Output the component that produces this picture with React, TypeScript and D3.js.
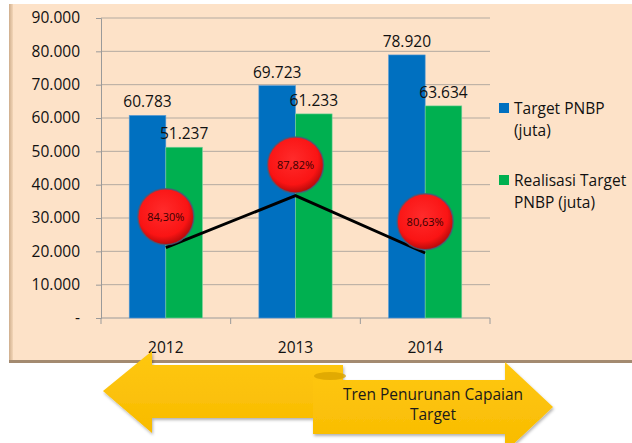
import React, { useEffect, useRef } from 'react';
import * as d3 from 'd3';

// data
const years = ['2012', '2013', '2014'];
const targetPnbp = [60783, 69723, 78920];
const realisasiPnbp = [51237, 61233, 63634];
const capaian = ['84,30%', '87,82%', '80,63%'];
// trend line end points and bubble centres, in primary axis units
const trendLine = [21100, 36700, 19500];
const bubbleAt = [30400, 45900, 28900];
const yTicks = [0, 10000, 20000, 30000, 40000, 50000, 60000, 70000, 80000, 90000];
const seriesNames = [['Target PNBP', '(juta)'], ['Realisasi Target', 'PNBP (juta)']];
const arrowText = ['Tren Penurunan Capaian', 'Target'];

const FONT = '"Open Sans", "Noto Sans", sans-serif';

const App = () => {
    const ref = useRef<SVGSVGElement>(null);

    useEffect(() => {
        const svg = d3.select(ref.current);
        svg.selectAll('*').remove();

        const margin = { top: 18, left: 101, right: 142, bottom: 125 };
        const width = 632;
        const height = 443;
        const plotW = width - margin.left - margin.right;
        const plotH = height - margin.top - margin.bottom;

        const defs = svg.append('defs');
        const bubbleGrad = defs.append('radialGradient')
            .attr('id', 'bubble')
            .attr('cx', '45%').attr('cy', '40%').attr('r', '60%');
        bubbleGrad.append('stop').attr('offset', '0%').attr('stop-color', '#ff2b2b');
        bubbleGrad.append('stop').attr('offset', '75%').attr('stop-color', '#fa1414');
        bubbleGrad.append('stop').attr('offset', '100%').attr('stop-color', '#b80a0a');

        const edgeGrad = defs.append('linearGradient')
            .attr('id', 'leftEdge').attr('x1', 0).attr('x2', 1);
        edgeGrad.append('stop').attr('offset', '0%').attr('stop-color', '#cfae8d');
        edgeGrad.append('stop').attr('offset', '100%').attr('stop-color', '#f3d6b8');

        const arrowGrad = defs.append('linearGradient')
            .attr('id', 'arrowFill').attr('x1', 0).attr('y1', 0).attr('x2', 0).attr('y2', 1);
        arrowGrad.append('stop').attr('offset', '0%').attr('stop-color', '#ffc812');
        arrowGrad.append('stop').attr('offset', '100%').attr('stop-color', '#f8bb00');

        const shadow = defs.append('filter').attr('id', 'shadow')
            .attr('x', '-10%').attr('y', '-10%').attr('width', '130%').attr('height', '130%');
        shadow.append('feDropShadow')
            .attr('dx', 1).attr('dy', 2).attr('stdDeviation', 1.5)
            .attr('flood-color', '#000').attr('flood-opacity', 0.3);

        // background panel
        svg.append('rect')
            .attr('x', 9).attr('y', 4).attr('width', width - 9).attr('height', 357)
            .attr('fill', '#fde2c8');
        svg.append('rect')
            .attr('x', 9).attr('y', 4).attr('width', 4).attr('height', 357)
            .attr('fill', 'url(#leftEdge)');
        svg.append('rect')
            .attr('x', 9).attr('y', 360).attr('width', width - 9).attr('height', 3)
            .attr('fill', '#a38a70');

        const g = svg.append('g').attr('transform', `translate(${margin.left}, ${margin.top})`);

        const x0 = d3.scaleBand().domain(years).range([0, plotW]).paddingInner(0.435).paddingOuter(0.2175);
        const x1 = d3.scaleBand().domain(['t', 'r']).range([0, x0.bandwidth()]);
        const y = d3.scaleLinear().domain([0, 90000]).range([plotH, 0]);
        const xCenter = (d: string) => (x0(d) as number) + x0.bandwidth() / 2;

        // grid
        g.selectAll('.grid')
            .data(yTicks.slice(1))
            .enter()
            .append('line')
            .attr('x1', 0).attr('x2', plotW)
            .attr('y1', d => y(d)).attr('y2', d => y(d))
            .attr('stroke', '#b3aaa0').attr('stroke-width', 1);

        // axes
        const yAxis = d3.axisLeft(y)
            .tickValues(yTicks)
            .tickSize(5)
            .tickPadding(16)
            .tickFormat(d => (+d === 0 ? '-' : d3.format(',')(+d).replace(/,/g, '.')));
        const gy = g.append('g').call(yAxis);
        gy.select('.domain').attr('stroke', '#9a9a9a');
        gy.selectAll('.tick line').attr('stroke', '#9a9a9a');
        gy.selectAll('text')
            .attr('font-family', FONT).attr('font-size', 15.5).attr('fill', '#111');

        const xBounds = d3.scaleLinear().domain([0, years.length]).range([0, plotW]);
        const gx = g.append('g').attr('transform', `translate(0, ${plotH})`);
        gx.append('line').attr('x1', 0).attr('x2', plotW)
            .attr('stroke', '#9a9a9a');
        gx.selectAll('.xt')
            .data(d3.range(years.length + 1))
            .enter()
            .append('line')
            .attr('x1', d => xBounds(d)).attr('x2', d => xBounds(d))
            .attr('y1', 0).attr('y2', 6)
            .attr('stroke', '#9a9a9a');
        gx.selectAll('text')
            .data(years)
            .enter()
            .append('text')
            .attr('x', d => xCenter(d))
            .attr('y', 35)
            .attr('text-anchor', 'middle')
            .attr('font-family', FONT).attr('font-size', 15.5).attr('fill', '#111')
            .text(d => d);

        // bars
        const series = [
            { key: 't', values: targetPnbp, color: '#0070c0', edge: '#5b9bd5' },
            { key: 'r', values: realisasiPnbp, color: '#00b050', edge: '#7fd39f' }
        ];
        series.forEach(s => {
            g.selectAll(`.bar-${s.key}`)
                .data(years)
                .enter()
                .append('rect')
                .attr('x', d => (x0(d) as number) + (x1(s.key) as number))
                .attr('width', x1.bandwidth())
                .attr('y', (d, i) => y(s.values[i]))
                .attr('height', (d, i) => plotH - y(s.values[i]))
                .attr('fill', s.color)
                .attr('stroke', s.edge).attr('stroke-width', 0.6);
            g.selectAll(`.lab-${s.key}`)
                .data(years)
                .enter()
                .append('text')
                .attr('x', d => (x0(d) as number) + (x1(s.key) as number) + x1.bandwidth() / 2)
                .attr('y', (d, i) => y(s.values[i]) - 8)
                .attr('text-anchor', 'middle')
                .attr('font-family', FONT).attr('font-size', 15.5).attr('fill', '#111')
                .text((d, i) => d3.format(',')(s.values[i]).replace(/,/g, '.'));
        });

        // trend line
        const line = d3.line<number>()
            .x((d, i) => xCenter(years[i]))
            .y(d => y(d));
        g.append('path')
            .attr('d', line(trendLine))
            .attr('fill', 'none')
            .attr('stroke', '#000')
            .attr('stroke-width', 3);

        // bubbles
        const bubbles = g.selectAll('.bubble')
            .data(years)
            .enter()
            .append('g')
            .attr('transform', (d, i) => `translate(${xCenter(d)}, ${y(bubbleAt[i])})`);
        bubbles.append('circle')
            .attr('r', 28)
            .attr('fill', 'url(#bubble)')
            .attr('stroke', '#4a5a78').attr('stroke-width', 1.5)
            .attr('stroke-opacity', 0.8);
        bubbles.append('text')
            .attr('y', 4)
            .attr('text-anchor', 'middle')
            .attr('font-family', FONT).attr('font-size', 11).attr('fill', '#3a0000')
            .text((d, i) => capaian[i]);

        // legend
        const legend = svg.append('g').attr('transform', 'translate(499, 103)');
        const legendColors = ['#0070c0', '#00b050'];
        seriesNames.forEach((lines, i) => {
            const lg = legend.append('g').attr('transform', `translate(0, ${i * 72})`);
            lg.append('rect').attr('width', 10).attr('height', 10).attr('fill', legendColors[i]);
            lines.forEach((t, j) => {
                lg.append('text')
                    .attr('x', 15).attr('y', 11 + j * 22)
                    .attr('font-family', FONT).attr('font-size', 15.5).attr('fill', '#111')
                    .text(t);
            });
        });

        // double arrow
        const arrows = svg.append('g').attr('filter', 'url(#shadow)');
        const rightArrow = d3.path();
        rightArrow.moveTo(313, 380);
        rightArrow.lineTo(505, 380);
        rightArrow.lineTo(505, 362);
        rightArrow.lineTo(553, 407);
        rightArrow.lineTo(505, 452);
        rightArrow.lineTo(505, 434);
        rightArrow.lineTo(313, 434);
        rightArrow.closePath();
        arrows.append('path').attr('d', rightArrow.toString()).attr('fill', 'url(#arrowFill)');

        const leftArrow = d3.path();
        leftArrow.moveTo(343, 365);
        leftArrow.lineTo(152, 365);
        leftArrow.lineTo(152, 351);
        leftArrow.lineTo(103, 391);
        leftArrow.lineTo(152, 433);
        leftArrow.lineTo(152, 418);
        leftArrow.lineTo(313, 418);
        leftArrow.lineTo(313, 380);
        leftArrow.lineTo(343, 380);
        leftArrow.closePath();
        arrows.append('path').attr('d', leftArrow.toString()).attr('fill', 'url(#arrowFill)');
        svg.append('ellipse')
            .attr('cx', 330).attr('cy', 376).attr('rx', 16).attr('ry', 4)
            .attr('fill', '#d9a400').attr('opacity', 0.8);

        arrowText.forEach((t, i) => {
            svg.append('text')
                .attr('x', 433).attr('y', 400 + i * 20)
                .attr('text-anchor', 'middle')
                .attr('font-family', FONT).attr('font-size', 15.5).attr('fill', '#1a1a1a')
                .text(t);
        });
    }, []);

    return (
        <svg ref={ref} width={632} height={443} style={{ position: 'absolute', left: 0, top: 0 }} />
    );
};

export default App;
